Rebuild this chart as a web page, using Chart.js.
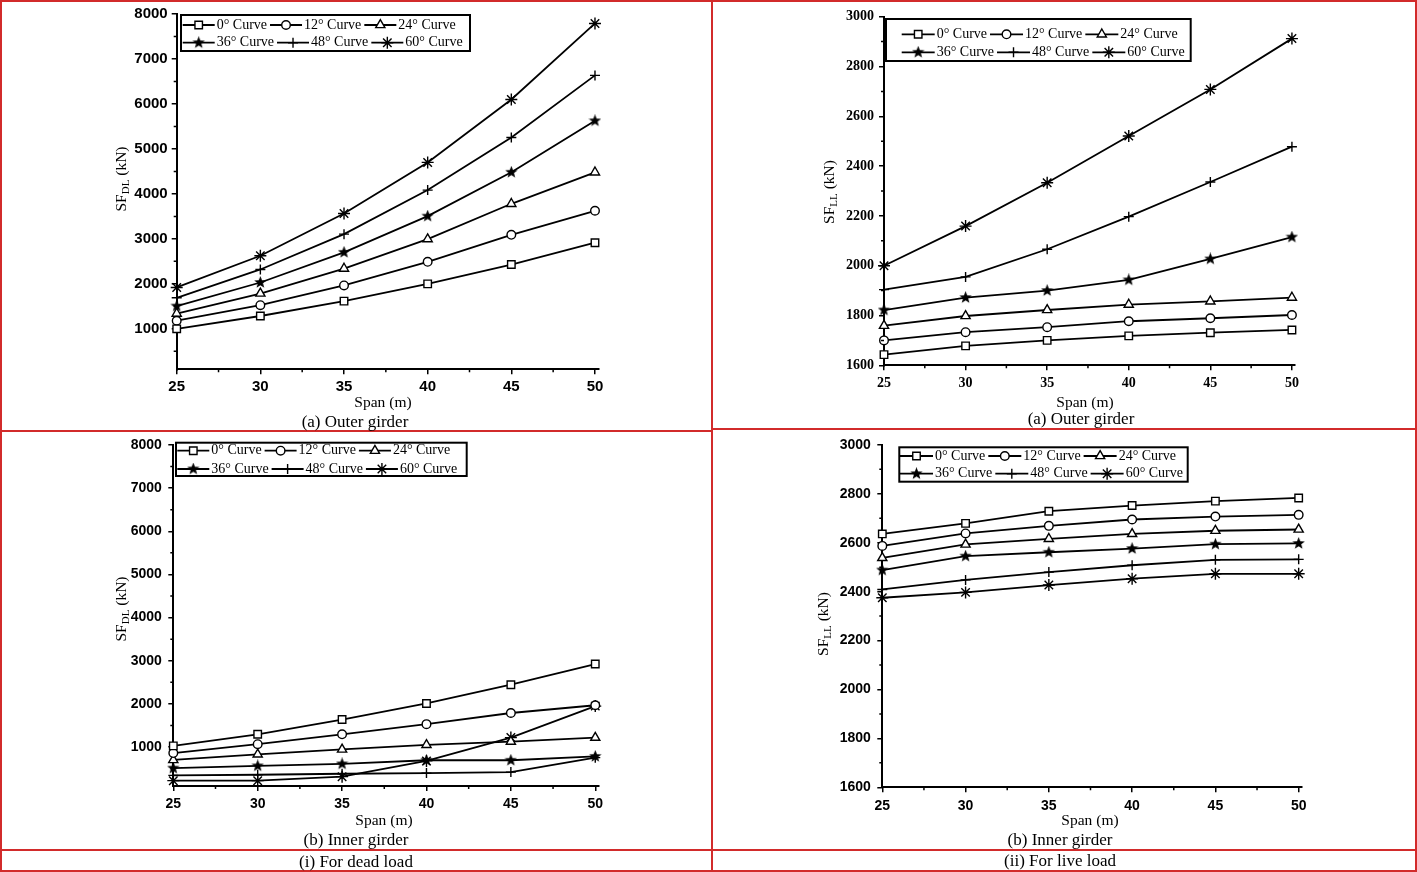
<!DOCTYPE html>
<html>
<head>
<meta charset="utf-8">
<script src="https://cdn.jsdelivr.net/npm/chart.js@4.4.1/dist/chart.umd.min.js"></script>
<style>
html, body { margin: 0; padding: 0; background: #fff; }
body { width: 1417px; height: 872px; position: relative; overflow: hidden; font-family: "Liberation Serif", "Times New Roman", serif; color: #000; }
.rule { position: absolute; background: #d22b2b; }
canvas { position: absolute; }
.txt { position: absolute; transform: translate(-50%, -50%); white-space: nowrap; }
.xt { font-size: 15.5px; }
.cap { font-size: 17px; }
.yt { font-size: 15.5px; transform: translate(-50%, -50%) rotate(-90deg); }
.yt sub { font-size: 11px; vertical-align: -3px; }
</style>
</head>
<body>

<!-- red frame -->
<div class="rule" style="left:0;top:0;width:1417px;height:2px"></div>
<div class="rule" style="left:0;top:870px;width:1417px;height:2px"></div>
<div class="rule" style="left:0;top:0;width:2px;height:872px"></div>
<div class="rule" style="left:1415px;top:0;width:2px;height:872px"></div>
<div class="rule" style="left:711px;top:0;width:2px;height:872px"></div>
<div class="rule" style="left:0;top:430px;width:711px;height:2px"></div>
<div class="rule" style="left:713px;top:428px;width:704px;height:2px"></div>
<div class="rule" style="left:0;top:849px;width:711px;height:2px"></div>
<div class="rule" style="left:713px;top:849px;width:704px;height:2px"></div>

<canvas id="dlOuterChart" width="520" height="395" style="left:100px;top:0px"></canvas>
<canvas id="llOuterChart" width="520" height="395" style="left:800px;top:0px"></canvas>
<canvas id="dlInnerChart" width="520" height="395" style="left:100px;top:430px"></canvas>
<canvas id="llInnerChart" width="520" height="395" style="left:800px;top:430px"></canvas>

<div class="txt yt" style="left:121px;top:179px">SF<sub>DL</sub> (kN)</div>
<div class="txt xt" style="left:383px;top:401.5px">Span (m)</div>
<div class="txt cap" style="left:355px;top:421.5px">(a) Outer girder</div>

<div class="txt yt" style="left:829px;top:192px">SF<sub>LL</sub> (kN)</div>
<div class="txt xt" style="left:1085px;top:401.5px">Span (m)</div>
<div class="txt cap" style="left:1081px;top:418.5px">(a) Outer girder</div>

<div class="txt yt" style="left:121px;top:609px">SF<sub>DL</sub> (kN)</div>
<div class="txt xt" style="left:384px;top:819.5px">Span (m)</div>
<div class="txt cap" style="left:356px;top:839.5px">(b) Inner girder</div>
<div class="txt cap" style="left:356px;top:861.5px">(i) For dead load</div>

<div class="txt yt" style="left:823px;top:624px">SF<sub>LL</sub> (kN)</div>
<div class="txt xt" style="left:1090px;top:819.5px">Span (m)</div>
<div class="txt cap" style="left:1060px;top:839.5px">(b) Inner girder</div>
<div class="txt cap" style="left:1060px;top:861px">(ii) For live load</div>

<script>
// Data
const spans = [25, 30, 35, 40, 45, 50];
const curveLabels = ['0° Curve', '12° Curve', '24° Curve', '36° Curve', '48° Curve', '60° Curve'];

const dlTicks = [1000, 2000, 3000, 4000, 5000, 6000, 7000, 8000];
const dlMinor = [500, 1500, 2500, 3500, 4500, 5500, 6500, 7500];
const llTicks = [1600, 1800, 2000, 2200, 2400, 2600, 2800, 3000];
const llMinor = [1700, 1900, 2100, 2300, 2500, 2700, 2900];
const spanMinor = [27.5, 32.5, 37.5, 42.5, 47.5];

// (i)(a) dead load, outer girder
const dlOuter0 = [1000, 1285, 1615, 2000, 2430, 2915];
const dlOuter12 = [1180, 1525, 1965, 2490, 3090, 3625];
const dlOuter24 = [1340, 1785, 2340, 2995, 3780, 4480];
const dlOuter36 = [1505, 2030, 2700, 3505, 4480, 5625];
const dlOuter48 = [1690, 2320, 3105, 4085, 5255, 6635];
const dlOuter60 = [1920, 2625, 3565, 4700, 6100, 7790];

// (ii)(a) live load, outer girder
const llOuter0 = [1643, 1678, 1700, 1718, 1731, 1742];
const llOuter12 = [1700, 1733, 1753, 1777, 1789, 1802];
const llOuter24 = [1759, 1798, 1822, 1844, 1857, 1872];
const llOuter36 = [1822, 1872, 1900, 1943, 2027, 2115];
const llOuter48 = [1904, 1955, 2066, 2197, 2336, 2478];
const llOuter60 = [2000, 2159, 2333, 2521, 2708, 2912];

// (i)(b) dead load, inner girder
const dlInner0 = [1030, 1297, 1639, 2012, 2446, 2925];
const dlInner12 = [863, 1069, 1297, 1533, 1791, 1970];
const dlInner24 = [703, 833, 947, 1053, 1130, 1220];
const dlInner36 = [513, 566, 612, 696, 696, 785];
const dlInner48 = [346, 361, 384, 399, 422, 757];
const dlInner60 = [224, 224, 316, 681, 1221, 1950];

// (ii)(b) live load, inner girder
const llInner0 = [2636, 2679, 2729, 2752, 2770, 2783];
const llInner12 = [2587, 2638, 2669, 2695, 2707, 2714];
const llInner24 = [2538, 2593, 2616, 2636, 2649, 2654];
const llInner36 = [2488, 2545, 2561, 2576, 2594, 2597];
const llInner48 = [2409, 2448, 2480, 2508, 2530, 2532];
const llInner60 = [2375, 2397, 2427, 2453, 2473, 2473];

function starMarker(size) {
    const c = document.createElement('canvas');
    c.width = c.height = size;
    const g = c.getContext('2d');
    const R = size / 2, r = R * 0.42;
    g.beginPath();
    for (let i = 0; i < 10; i++) {
        const a = -Math.PI / 2 + i * Math.PI / 5;
        const rad = i % 2 ? r : R;
        g.lineTo(R + rad * Math.cos(a), R + rad * Math.sin(a));
    }
    g.closePath();
    g.fillStyle = '#000';
    g.fill();
    return c;
}

const markers = [
    { pointStyle: 'rect', pointRadius: 5.3, pointBackgroundColor: '#fff' },
    { pointStyle: 'circle', pointRadius: 4.3, pointBackgroundColor: '#fff' },
    { pointStyle: 'triangle', pointRadius: 5.3, pointBackgroundColor: '#fff' },
    { pointStyle: starMarker(13), pointRadius: 6.5, pointBackgroundColor: '#000' },
    { pointStyle: 'cross', pointRadius: 5, pointBackgroundColor: '#000' },
    { pointStyle: 'star', pointRadius: 6, pointBackgroundColor: '#000' }
];

// minor ticks drawn through the chart's own scales
const minorTicks = {
    id: 'minorTicks',
    afterDraw(chart, args, o) {
        const ctx = chart.ctx, xs = chart.scales.x, ys = chart.scales.y;
        ctx.save();
        ctx.strokeStyle = '#000';
        ctx.lineWidth = 1.5;
        ctx.beginPath();
        o.x.forEach(v => { const p = xs.getPixelForValue(v); ctx.moveTo(p, xs.top); ctx.lineTo(p, xs.top + 3); });
        o.y.forEach(v => { const p = ys.getPixelForValue(v); ctx.moveTo(ys.right, p); ctx.lineTo(ys.right - 3, p); });
        ctx.stroke();
        ctx.restore();
    }
};

// boxed two-row legend inside the plot
const boxLegend = {
    id: 'boxLegend',
    afterDraw(chart, args, o) {
        const ctx = chart.ctx;
        ctx.save();
        ctx.lineWidth = 2;
        ctx.strokeStyle = '#000';
        ctx.strokeRect(o.x, o.y, o.w, o.h);
        ctx.font = '14px "Liberation Serif", "Times New Roman", serif';
        ctx.textBaseline = 'middle';
        o.rows.forEach((row, r) => {
            let x = o.x + o.padLeft;
            const y = o.rowY[r];
            row.forEach(i => {
                const ds = chart.data.datasets[i];
                ctx.strokeStyle = '#000';
                ctx.lineWidth = 1.8;
                ctx.beginPath();
                ctx.moveTo(x, y);
                ctx.lineTo(x + o.sample, y);
                ctx.stroke();
                ctx.fillStyle = ds.pointBackgroundColor;
                ctx.lineWidth = 1.4;
                Chart.helpers.drawPoint(ctx, { pointStyle: ds.pointStyle, radius: ds.pointRadius, borderWidth: 1.4, rotation: 0 }, x + o.sample / 2, y);
                ctx.fillStyle = '#000';
                ctx.fillText(ds.label, x + o.sample + 2, y);
                x += o.sample + 2 + ctx.measureText(ds.label).width + o.gap;
            });
        });
        ctx.restore();
    }
};

function makeChart(id, cv, area, seriesList, yr, tickFont, pads, legendBox) {
    const ctx = document.getElementById(id).getContext('2d');
    const datasets = seriesList.map((vals, i) => Object.assign({
        label: curveLabels[i],
        data: spans.map((s, k) => ({ x: s, y: vals[k] })),
        borderColor: '#000',
        borderWidth: 1.8,
        pointBorderColor: '#000',
        pointBorderWidth: 1.4,
        clip: false
    }, markers[i]));

    const lg = Object.assign({}, legendBox, { x: legendBox.x - cv.left, y: legendBox.y - cv.top, rowY: legendBox.rowY.map(v => v - cv.top) });

    return new Chart(ctx, {
        type: 'line',
        data: { datasets },
        plugins: [minorTicks, boxLegend],
        options: {
            responsive: false,
            animation: false,
            devicePixelRatio: 1,
            events: [],
            layout: { padding: { top: area.top - cv.top, right: cv.left + cv.w - area.right, left: 0, bottom: 0 } },
            plugins: {
                legend: { display: false },
                tooltip: { enabled: false },
                minorTicks: { x: spanMinor, y: yr.minor },
                boxLegend: lg
            },
            scales: {
                x: {
                    type: 'linear', min: 25, max: area.xMax,
                    afterBuildTicks: s => { s.ticks = spans.map(v => ({ value: v })); },
                    afterFit: s => { s.height = cv.top + cv.h - area.bottom; },
                    ticks: { font: tickFont, color: '#000', padding: pads.x, maxRotation: 0, callback: v => String(v) },
                    grid: { drawOnChartArea: false, drawTicks: true, tickLength: 5, color: '#000', lineWidth: 1.5 },
                    border: { color: '#000', width: 2 }
                },
                y: {
                    type: 'linear', min: yr.min, max: yr.max,
                    afterBuildTicks: s => { s.ticks = yr.ticks.map(v => ({ value: v })); },
                    afterFit: s => { s.width = area.left - cv.left; },
                    ticks: { font: tickFont, color: '#000', padding: pads.y, callback: v => String(v) },
                    grid: { drawOnChartArea: false, drawTicks: true, tickLength: 5, color: '#000', lineWidth: 1.5 },
                    border: { color: '#000', width: 2 }
                }
            }
        }
    });
}

const sansBold15 = { family: '"Liberation Sans", Arial, sans-serif', size: 15, weight: 'bold' };
const sansBold14 = { family: '"Liberation Sans", Arial, sans-serif', size: 14, weight: 'bold' };
const serifBold14 = { family: '"Liberation Serif", "Times New Roman", serif', size: 14, weight: 'bold' };

const dlRange = { min: 100, max: 8000, ticks: dlTicks, minor: dlMinor };
const llRange = { min: 1600, max: 3000, ticks: llTicks, minor: llMinor };

makeChart('dlOuterChart',
    { left: 100, top: 0, w: 520, h: 395 },
    { left: 176.7, top: 14, right: 599, bottom: 369.3, xMax: 50.24 },
    [dlOuter0, dlOuter12, dlOuter24, dlOuter36, dlOuter48, dlOuter60],
    dlRange, sansBold15, { x: 3.4, y: 4 },
    { x: 181, y: 15, w: 289, h: 36, rowY: [25, 42.7], padLeft: 1.7, sample: 32, gap: 3, rows: [[0, 1, 2], [3, 4, 5]] });

makeChart('llOuterChart',
    { left: 800, top: 0, w: 520, h: 395 },
    { left: 884, top: 16.7, right: 1294.7, bottom: 365.3, xMax: 50.17 },
    [llOuter0, llOuter12, llOuter24, llOuter36, llOuter48, llOuter60],
    llRange, serifBold14, { x: 4.6, y: 5 },
    { x: 886, y: 19, w: 304.7, h: 42, rowY: [34.3, 52.3], padLeft: 15.7, sample: 33, gap: 3, rows: [[0, 1, 2], [3, 4, 5]] });

makeChart('dlInnerChart',
    { left: 100, top: 430, w: 520, h: 395 },
    { left: 173.3, top: 440, right: 598.3, bottom: 786, xMax: 50.18 },
    [dlInner0, dlInner12, dlInner24, dlInner36, dlInner48, dlInner60],
    dlRange, sansBold14, { x: 4.6, y: 6.5 },
    { x: 176, y: 442.7, w: 290.7, h: 33.3, rowY: [450.7, 469], padLeft: 1.3, sample: 32, gap: 3, rows: [[0, 1, 2], [3, 4, 5]] });

makeChart('llInnerChart',
    { left: 800, top: 430, w: 520, h: 395 },
    { left: 882.3, top: 444.7, right: 1302, bottom: 787.3, xMax: 50.2 },
    [llInner0, llInner12, llInner24, llInner36, llInner48, llInner60],
    llRange, sansBold14, { x: 5, y: 6.5 },
    { x: 899.3, y: 447.3, w: 288.4, h: 34.4, rowY: [456, 473.7], padLeft: 0.7, sample: 33, gap: 3, rows: [[0, 1, 2], [3, 4, 5]] });
</script>
</body>
</html>
